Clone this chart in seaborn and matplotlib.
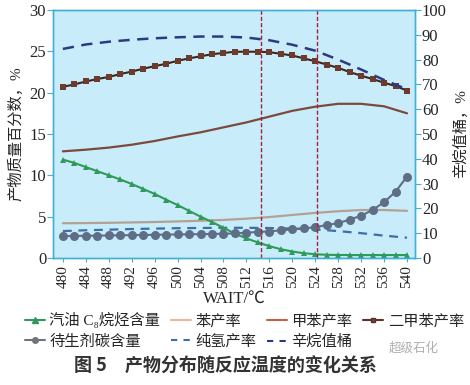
import numpy as np
import pandas as pd
import matplotlib
matplotlib.use("Agg")
import matplotlib.pyplot as plt
from matplotlib.lines import Line2D
import seaborn as sns

# Temperaturas (marcadores cada 2 ℃, curvas suaves cada 4 ℃)
temps_2 = [480, 482, 484, 486, 488, 490, 492, 494, 496, 498, 500, 502, 504, 506, 508,
           510, 512, 514, 516, 518, 520, 522, 524, 526, 528, 530, 532, 534, 536, 538, 540]
temps_4 = [480, 484, 488, 492, 496, 500, 504, 508, 512, 516, 520, 524, 528, 532, 536, 540]

# Eje izquierdo (%)
c8_alkane = [11.9, 11.5, 11.0, 10.5, 10.0, 9.5, 8.95, 8.35, 7.75, 7.05, 6.4, 5.7, 5.0, 4.35, 3.65,
             2.95, 2.36, 1.88, 1.43, 1.06, 0.78, 0.57, 0.45, 0.38, 0.36, 0.35, 0.35, 0.35, 0.35, 0.35, 0.35]
xylene = [20.7, 21.0, 21.35, 21.65, 21.9, 22.25, 22.55, 22.9, 23.2, 23.5, 23.85, 24.15, 24.4, 24.65, 24.8,
          24.95, 24.95, 24.95, 24.9, 24.7, 24.5, 24.15, 23.8, 23.4, 23.0, 22.5, 22.05, 21.65, 21.2, 20.8, 20.25]
coke = [2.65, 2.66, 2.68, 2.7, 2.72, 2.74, 2.76, 2.78, 2.8, 2.82, 2.84, 2.86, 2.88, 2.9, 2.93,
        2.97, 3.05, 3.15, 3.2, 3.35, 3.45, 3.6, 3.7, 4.0, 4.2, 4.65, 5.1, 5.8, 6.75, 8.0, 9.85]
toluene = [12.9, 13.1, 13.35, 13.7, 14.15, 14.7, 15.2, 15.8, 16.4, 17.1, 17.8, 18.3, 18.65, 18.65, 18.35, 17.5]
benzene = [4.2, 4.22, 4.25, 4.3, 4.35, 4.42, 4.5, 4.6, 4.75, 4.95, 5.2, 5.45, 5.65, 5.8, 5.8, 5.7]
hydrogen = [3.25, 3.35, 3.42, 3.5, 3.55, 3.6, 3.63, 3.65, 3.65, 3.62, 3.55, 3.45, 3.25, 3.0, 2.7, 2.45]
# Eje derecho
octane_barrel = [84.3, 86.1, 87.2, 88.0, 88.6, 89.0, 89.3, 89.3, 88.9, 87.8, 86.0, 83.6, 80.0, 76.0, 71.8, 68.0]

x_ticks = [480, 484, 488, 492, 496, 500, 504, 508, 512, 516, 520, 524, 528, 532, 536, 540]
v_lines = [514.5, 524.3]

labels = ["汽油 C₈烷烃含量", "苯产率", "甲苯产率", "二甲苯产率", "待生剂碳含量", "纯氢产率", "辛烷值桶"]

df2 = pd.DataFrame({"T": temps_2, "c8": c8_alkane, "xyl": xylene, "coke": coke})
df4 = pd.DataFrame({"T": temps_4, "tol": toluene, "ben": benzene, "h2": hydrogen, "oct": octane_barrel})

sns.set_style("ticks")
plt.rcParams["font.family"] = ["Liberation Serif", "Noto Sans CJK SC", "DejaVu Sans"]

spine_c = "#3fb0d6"
fig = plt.figure(figsize=(4.7, 3.85), dpi=100)
ax = fig.add_axes([0.113, 0.330, 0.770, 0.644])
ax.set_facecolor("#c9ecfa")
ax2 = ax.twinx()

sns.lineplot(data=df4, x="T", y="tol", ax=ax, color="#7b4a3c", lw=1.6)
sns.lineplot(data=df4, x="T", y="ben", ax=ax, color="#b3a294", lw=1.6)
sns.lineplot(data=df4, x="T", y="h2", ax=ax, color="#3b6fa6", lw=1.6, linestyle=(0, (4, 3)))
sns.lineplot(data=df2, x="T", y="c8", ax=ax, color="#2f9a5a", lw=1.5, marker="^", markersize=5, markeredgewidth=0)
sns.lineplot(data=df2, x="T", y="xyl", ax=ax, color="#3b2620", lw=1.5, marker="s", markersize=5,
             markerfacecolor="#6e3a2c", markeredgewidth=0)
sns.lineplot(data=df2, x="T", y="coke", ax=ax, color="#5d6e86", lw=1.5, marker="o", markersize=6.5, markeredgewidth=0)
sns.lineplot(data=df4, x="T", y="oct", ax=ax2, color="#2c3a82", lw=1.8, linestyle=(0, (4.5, 3)))

for v in v_lines:
    ax.axvline(v, color="#a2223a", lw=1.0, ls=(0, (3, 1.5)))

ax.set_xlim(478.3, 541.4)
ax.set_ylim(0, 30)
ax2.set_ylim(0, 100)
ax.set_xticks(x_ticks)
ax.set_yticks(range(0, 31, 5))
ax2.set_yticks(range(0, 101, 10))
ax.tick_params(axis="x", rotation=90, labelsize=11, length=3, color=spine_c, pad=2)
ax.tick_params(axis="y", labelsize=12, length=4, color=spine_c, pad=1)
ax2.tick_params(axis="y", labelsize=12, length=4, color=spine_c, pad=1)
for a in (ax, ax2):
    for s in a.spines.values():
        s.set_color(spine_c)
        s.set_linewidth(1.0)

ax.set_xlabel("WAIT/℃", fontsize=12, labelpad=2)
ax.set_ylabel("产物质量百分数，%", fontsize=11, labelpad=4)
ax2.set_ylabel("辛烷值桶，%", fontsize=11, labelpad=4)

handles = [
    Line2D([], [], color="#2f9a5a", lw=1.5, marker="^", markersize=4),
    Line2D([], [], color="#e8b89c", lw=1.5),
    Line2D([], [], color="#c2604a", lw=1.5),
    Line2D([], [], color="#5a3226", lw=1.5, marker="s", markersize=3.5, markerfacecolor="#7a3e2e"),
    Line2D([], [], color="#6f7478", lw=1.5, marker="o", markersize=4),
    Line2D([], [], color="#3b6fa6", lw=1.5, ls=(0, (3, 3))),
    Line2D([], [], color="#2c3a82", lw=1.5, ls=(0, (3, 3))),
]
order = [0, 4, 1, 5, 2, 6, 3]
fig.legend([handles[i] for i in order], [labels[i] for i in order], ncol=4,
           loc="upper center", bbox_to_anchor=(0.52, 0.205), bbox_transform=fig.transFigure,
           frameon=False, fontsize=11, handlelength=1.3, handletextpad=0.3, columnspacing=0.7,
           labelspacing=0.4, borderaxespad=0)

fig.text(0.48, 0.048, "图 5　产物分布随反应温度的变化关系", ha="center", va="center", fontsize=13,
         fontweight="bold", color="#333333", family=["Noto Sans CJK SC", "DejaVu Sans"])
fig.text(0.88, 0.095, "超级石化", ha="center", va="center", fontsize=9, color="#b0b0b0",
         family=["Noto Sans CJK SC", "DejaVu Sans"])

fig.savefig("out.png", dpi=100)
